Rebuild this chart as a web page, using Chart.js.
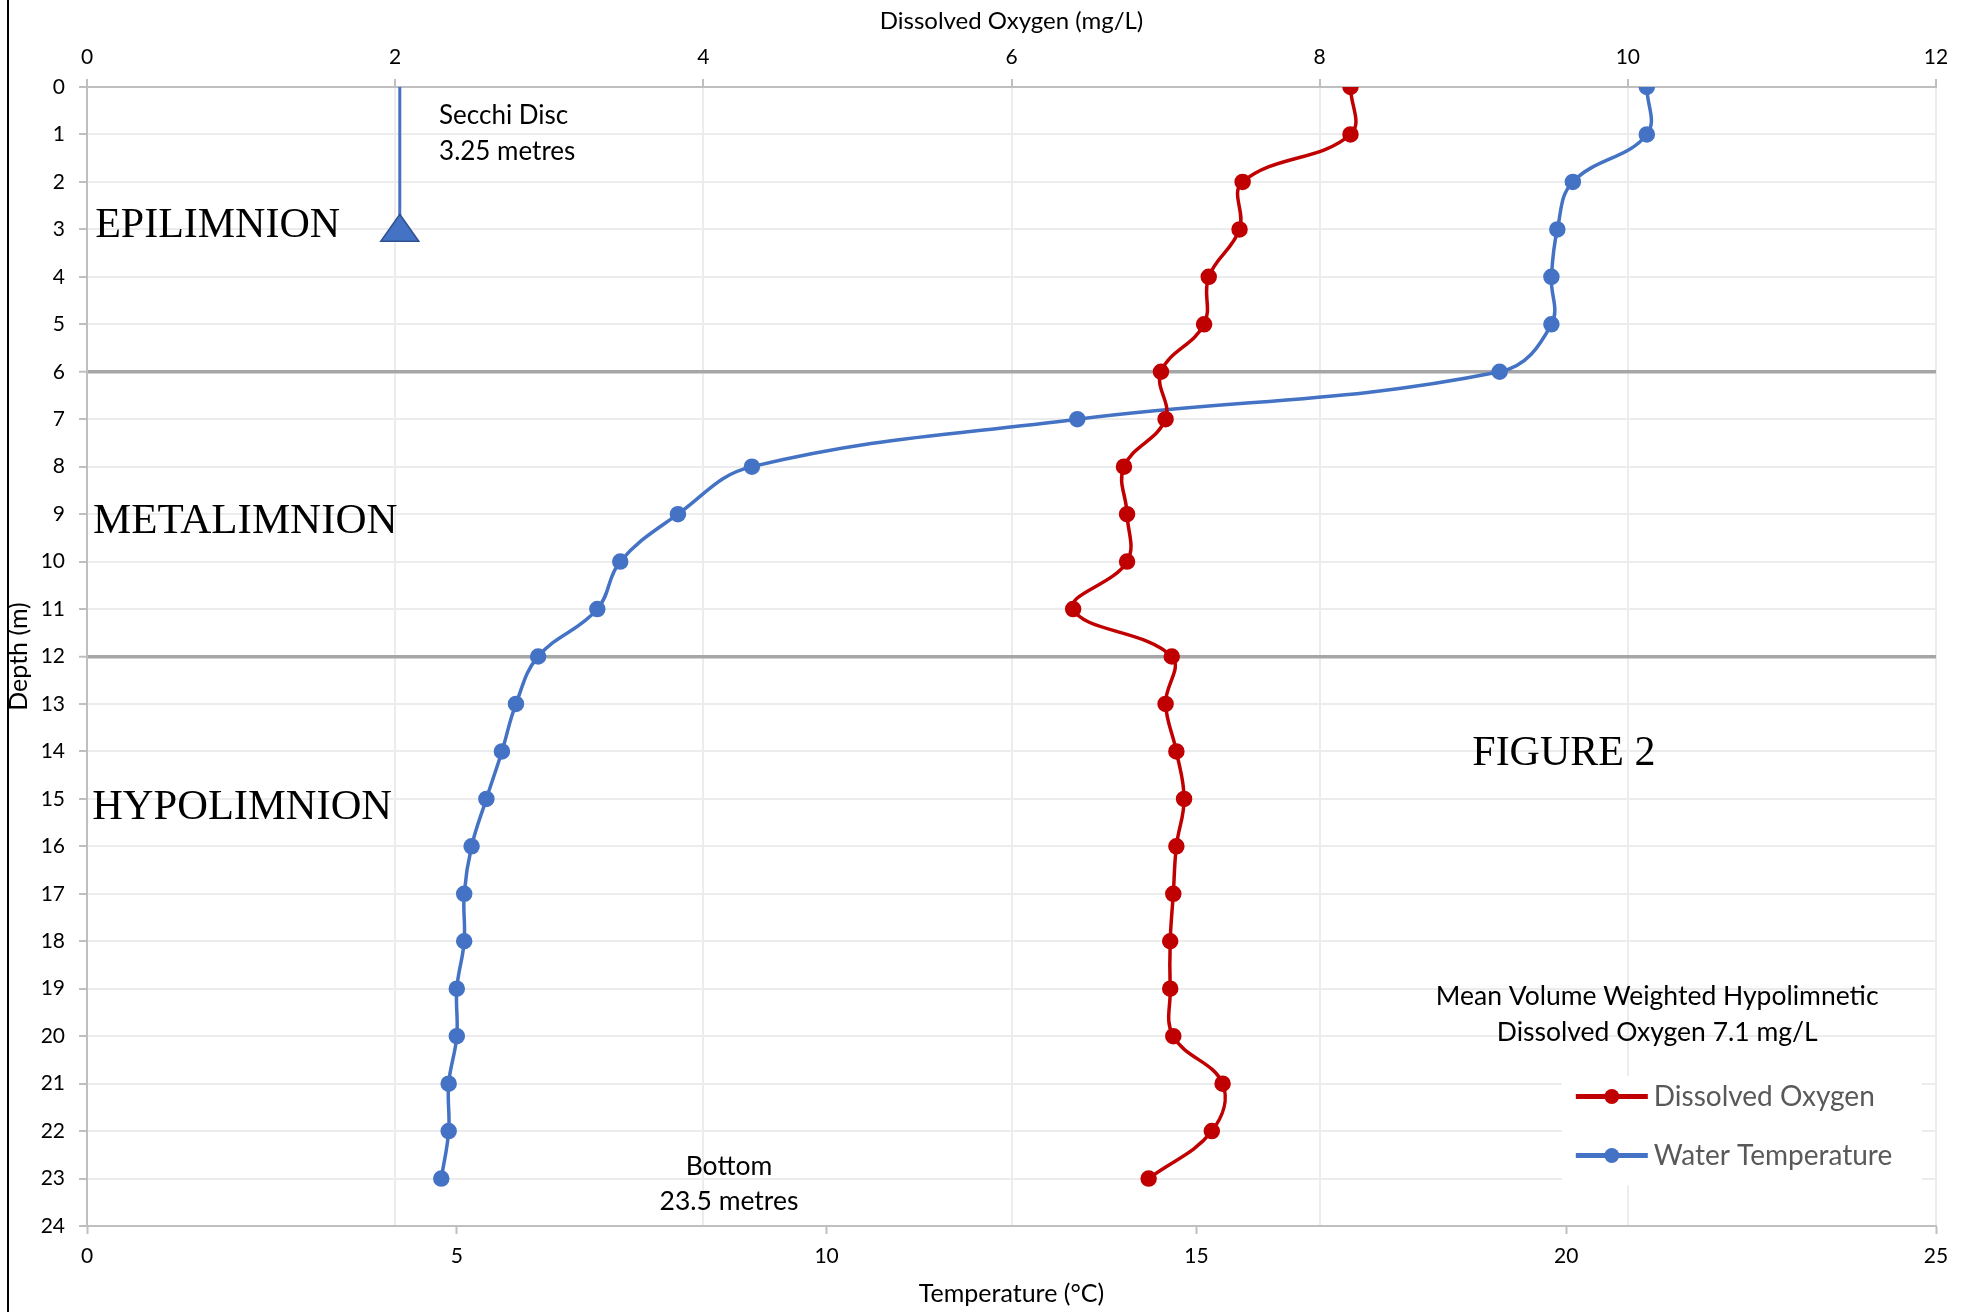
<!DOCTYPE html>
<html>
<head>
<meta charset="utf-8">
<title>Depth profile</title>
<script src="https://cdn.jsdelivr.net/npm/chart.js@4.4.1/dist/chart.umd.min.js"></script>
<style>
  html, body { margin: 0; padding: 0; background: #fff; }
  #wrap { position: relative; width: 1971px; height: 1312px; }
  #edge { position: absolute; left: 7px; top: 0; width: 2px; height: 1312px; background: #000; }
</style>
</head>
<body>
<div id="wrap">
  <canvas id="chart"></canvas>
  <div id="edge"></div>
</div>
<script>
// ── data ──────────────────────────────────────────────────────────────
const depths = [0, 1, 2, 3, 4, 5, 6, 7, 8, 9, 10, 11, 12, 13, 14, 15, 16, 17, 18, 19, 20, 21, 22, 23];
const dissolvedOxygen = [8.20, 8.20, 7.50, 7.48, 7.28, 7.25, 6.97, 7.00, 6.73, 6.75, 6.75, 6.40,
                         7.04, 7.00, 7.07, 7.12, 7.07, 7.05, 7.03, 7.03, 7.05, 7.37, 7.30, 6.89];
const waterTemp = [21.09, 21.09, 20.09, 19.88, 19.80, 19.80, 19.10, 13.39, 8.99, 7.99, 7.21, 6.90,
                   6.10, 5.80, 5.61, 5.40, 5.20, 5.10, 5.10, 5.00, 5.00, 4.89, 4.89, 4.79];

const depthTicks = [0, 1, 2, 3, 4, 5, 6, 7, 8, 9, 10, 11, 12, 13, 14, 15, 16, 17, 18, 19, 20, 21, 22, 23, 24];
const tempTicks = [0, 5, 10, 15, 20, 25];
const oxygenTicks = [0, 2, 4, 6, 8, 10, 12];
const layerBoundaries = [6, 12];

const secchiOxygenX = 2.03;
const secchiDepth = 3.25;

// ── styling ───────────────────────────────────────────────────────────
const RED = '#c00000';
const BLUE = '#4472c4';
const SANS = 'Lato';
const SERIF = 'Liberation Serif';
const GRID = '#ececec';
const AXIS = '#bfbfbf';

// free text placed in temperature (x) / depth (y) units
const notes = [
  { text: 'EPILIMNION',  t: 0.11,  d: 2.92,  font: '42px "' + SERIF + '"', align: 'left' },
  { text: 'METALIMNION', t: 0.08,  d: 9.15,  font: '43px "' + SERIF + '"', align: 'left' },
  { text: 'HYPOLIMNION', t: 0.07,  d: 15.18, font: '42.5px "' + SERIF + '"', align: 'left' },
  { text: 'FIGURE 2',    t: 18.73, d: 14.06, font: '42px "' + SERIF + '"', align: 'left' },
  { text: 'Secchi Disc', t: 4.76,  d: 0.61,  font: '26px ' + SANS, align: 'left' },
  { text: '3.25 metres', t: 4.76,  d: 1.37,  font: '26px ' + SANS, align: 'left' },
  { text: 'Bottom',      t: 8.68,  d: 22.75, font: '26.5px ' + SANS, align: 'center' },
  { text: '23.5 metres', t: 8.68,  d: 23.48, font: '26.5px ' + SANS, align: 'center' },
  { text: 'Mean Volume Weighted Hypolimnetic', t: 21.23, d: 19.16, font: '26.5px ' + SANS, align: 'center' },
  { text: 'Dissolved Oxygen 7.1 mg/L',         t: 21.23, d: 19.92, font: '26.5px ' + SANS, align: 'center' },
];

function toPoints(xs) {
  return depths.map(function (d, i) { return { x: xs[i], y: d }; });
}

function fixedTicks(list) {
  return function (scale) {
    scale.ticks = list.map(function (v) { return { value: v }; });
  };
}

// ── overlay: secchi marker, text notes, legend ────────────────────────
const overlayPlugin = {
  id: 'overlay',
  afterDatasetsDraw: function (chart) {
    const ctx = chart.ctx;
    const xT = chart.scales.xT, xDO = chart.scales.xDO, y = chart.scales.y;

    // secchi triangle, base sitting on the secchi depth
    const px = xDO.getPixelForValue(secchiOxygenX);
    const base = y.getPixelForValue(secchiDepth);
    ctx.save();
    ctx.beginPath();
    ctx.moveTo(px, base - 27);
    ctx.lineTo(px + 19, base);
    ctx.lineTo(px - 19, base);
    ctx.closePath();
    ctx.fillStyle = BLUE;
    ctx.fill();
    ctx.strokeStyle = '#2f528f';
    ctx.lineWidth = 1.5;
    ctx.stroke();

    ctx.fillStyle = '#000';
    ctx.textBaseline = 'middle';
    notes.forEach(function (n) {
      ctx.font = n.font;
      ctx.textAlign = n.align;
      ctx.fillText(n.text, xT.getPixelForValue(n.t), y.getPixelForValue(n.d));
    });
    ctx.restore();
  },
  afterDraw: function (chart) {
    const ctx = chart.ctx;
    const xT = chart.scales.xT, y = chart.scales.y;
    const left = xT.getPixelForValue(20.13);
    const top = y.getPixelForValue(20.83);
    ctx.save();
    ctx.fillStyle = '#fff';
    ctx.fillRect(left - 14, top, 360, 110);
    const entries = chart.data.datasets.filter(function (ds) { return ds.label; });
    entries.forEach(function (ds, i) {
      const cy = top + 21 + i * 59;
      ctx.strokeStyle = ds.borderColor;
      ctx.lineWidth = 5;
      ctx.beginPath();
      ctx.moveTo(left, cy);
      ctx.lineTo(left + 72, cy);
      ctx.stroke();
      ctx.fillStyle = ds.backgroundColor;
      ctx.beginPath();
      ctx.arc(left + 36, cy, 7.5, 0, Math.PI * 2);
      ctx.fill();
      ctx.fillStyle = '#595959';
      ctx.font = '28px ' + SANS;
      ctx.textAlign = 'left';
      ctx.textBaseline = 'middle';
      ctx.fillText(ds.label, left + 78, cy);
    });
    ctx.restore();
  },
};

// ── chart ─────────────────────────────────────────────────────────────
Chart.defaults.font.family = SANS;
Chart.defaults.color = '#000';

new Chart(document.getElementById('chart').getContext('2d'), {
  type: 'scatter',
  data: {
    datasets: [
      {
        label: 'Dissolved Oxygen',
        data: toPoints(dissolvedOxygen),
        xAxisID: 'xDO', yAxisID: 'y',
        showLine: true, tension: 0.4,
        borderColor: RED, backgroundColor: RED,
        borderWidth: 3.5, pointRadius: 6.5, pointHoverRadius: 6.5,
      },
      {
        label: 'Water Temperature',
        data: toPoints(waterTemp),
        xAxisID: 'xT', yAxisID: 'y',
        showLine: true, tension: 0.4,
        borderColor: BLUE, backgroundColor: BLUE,
        borderWidth: 3.5, pointRadius: 6.5, pointHoverRadius: 6.5,
      },
      {
        data: [{ x: secchiOxygenX, y: 0 }, { x: secchiOxygenX, y: secchiDepth }],
        xAxisID: 'xDO', yAxisID: 'y',
        showLine: true, tension: 0,
        borderColor: BLUE, borderWidth: 3, pointRadius: 0,
      },
    ],
  },
  options: {
    responsive: true,
    maintainAspectRatio: false,
    animation: false,
    layout: { padding: { left: 0, right: 35, top: 0, bottom: 0 } },
    plugins: {
      legend: { display: false },
      tooltip: { enabled: false },
    },
    scales: {
      xT: {
        type: 'linear', position: 'bottom', min: 0, max: 25,
        afterBuildTicks: fixedTicks(tempTicks),
        afterFit: function (s) { s.height = 86; },
        grid: { z: -1, drawOnChartArea: false, drawTicks: true, tickLength: 8, tickColor: AXIS, tickWidth: 2 },
        border: { color: AXIS, width: 2 },
        ticks: { font: { size: 21 }, color: '#000', padding: 10 },
        title: { display: true, text: 'Temperature (°C)', font: { size: 25 }, color: '#000', padding: { top: 0, bottom: 3 } },
      },
      xDO: {
        type: 'linear', position: 'top', min: 0, max: 12,
        afterBuildTicks: fixedTicks(oxygenTicks),
        afterFit: function (s) { s.height = 87; },
        grid: { z: -1, color: GRID, lineWidth: 2, drawTicks: true, tickLength: 8, tickColor: AXIS, tickWidth: 2 },
        border: { color: AXIS, width: 2 },
        ticks: { font: { size: 21 }, color: '#000', padding: 9 },
        title: { display: true, text: 'Dissolved Oxygen (mg/L)', font: { size: 24 }, color: '#000', padding: { top: 7, bottom: 0 } },
      },
      y: {
        type: 'linear', position: 'left', reverse: true, min: 0, max: 24,
        afterBuildTicks: fixedTicks(depthTicks),
        afterFit: function (s) { s.width = 87; },
        grid: {
          z: -1,
          color: function (c) { return layerBoundaries.indexOf(c.tick.value) >= 0 ? '#a6a6a6' : GRID; },
          lineWidth: function (c) { return layerBoundaries.indexOf(c.tick.value) >= 0 ? 3.5 : 2; },
          drawTicks: true, tickLength: 8, tickColor: AXIS, tickWidth: 2,
        },
        border: { color: AXIS, width: 2 },
        ticks: { font: { size: 21 }, color: '#000', padding: 14 },
        title: { display: true, text: 'Depth (m)', font: { size: 25 }, color: '#000', padding: { top: 4, bottom: 0 } },
      },
    },
  },
  plugins: [overlayPlugin],
});
</script>
</body>
</html>
